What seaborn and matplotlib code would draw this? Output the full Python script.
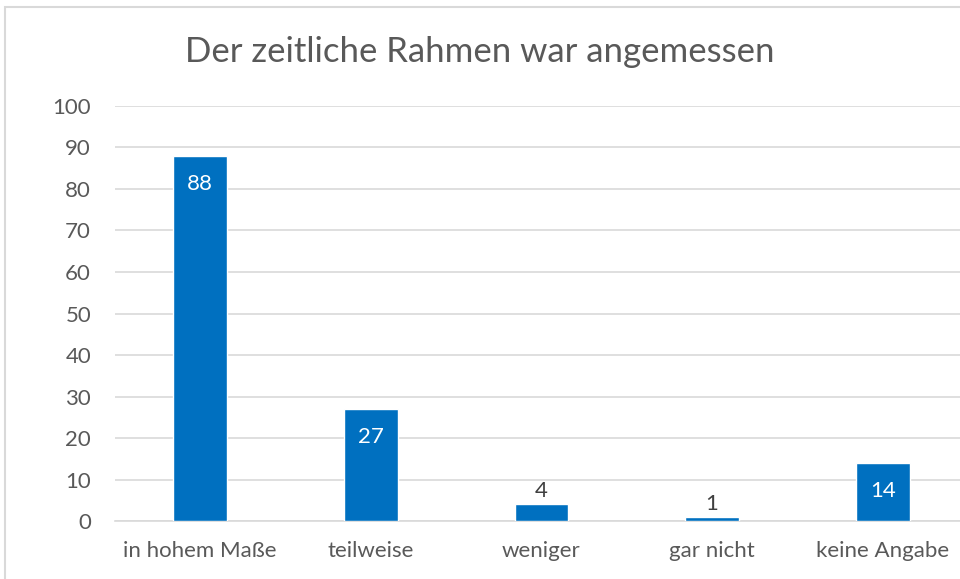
import matplotlib
matplotlib.use("Agg")
import matplotlib.pyplot as plt
import seaborn as sns
import pandas as pd
from matplotlib.patches import Rectangle

categories = ["in hohem Maße", "teilweise", "weniger", "gar nicht", "keine Angabe"]
counts = [88, 27, 4, 1, 14]
y_ticks = [0, 10, 20, 30, 40, 50, 60, 70, 80, 90, 100]
title = "Der zeitliche Rahmen war angemessen"

sns.set_style("white")
plt.rcParams["font.family"] = ["Lato", "DejaVu Sans"]

text_color = "#595959"
bar_color = "#0070C0"

df = pd.DataFrame({"category": categories, "count": counts})

fig = plt.figure(figsize=(9.6, 5.79), dpi=100)
ax = fig.add_axes([0.1195, 0.1, 0.889, 0.717])

sns.barplot(data=df, x="category", y="count", color=bar_color, width=0.315,
            saturation=1, ax=ax, zorder=3)

ax.set_ylim(0, 100)
ax.set_yticks(y_ticks)
ax.yaxis.grid(True, color="#D9D9D9", linewidth=1.2, zorder=0)
ax.xaxis.grid(False)
for side in ["top", "right", "left"]:
    ax.spines[side].set_visible(False)
ax.spines["bottom"].set_color("#D9D9D9")
ax.spines["bottom"].set_linewidth(1.2)
ax.tick_params(axis="both", length=0, labelsize=16, colors=text_color)
ax.tick_params(axis="x", pad=14)
ax.tick_params(axis="y", pad=17)
ax.set_xlabel("")
ax.set_ylabel("")

for i, v in enumerate(counts):
    if v >= 10:
        ax.text(i, v - 6.7, str(v), ha="center", va="center", color="white", fontsize=16, zorder=4)
    else:
        ax.text(i, v + 0.8, str(v), ha="center", va="bottom", color="#404040", fontsize=16, zorder=4)

fig.text(0.5, 0.91, title, ha="center", va="center", fontsize=25, color=text_color)

# light frame of the chart area
fig.patches.append(Rectangle((5 / 960, -0.1), 1.2, 1 - 7 / 579 + 0.1, transform=fig.transFigure,
                             fill=False, edgecolor="#D9D9D9", linewidth=1.5))

fig.savefig("out.png", dpi=100)
